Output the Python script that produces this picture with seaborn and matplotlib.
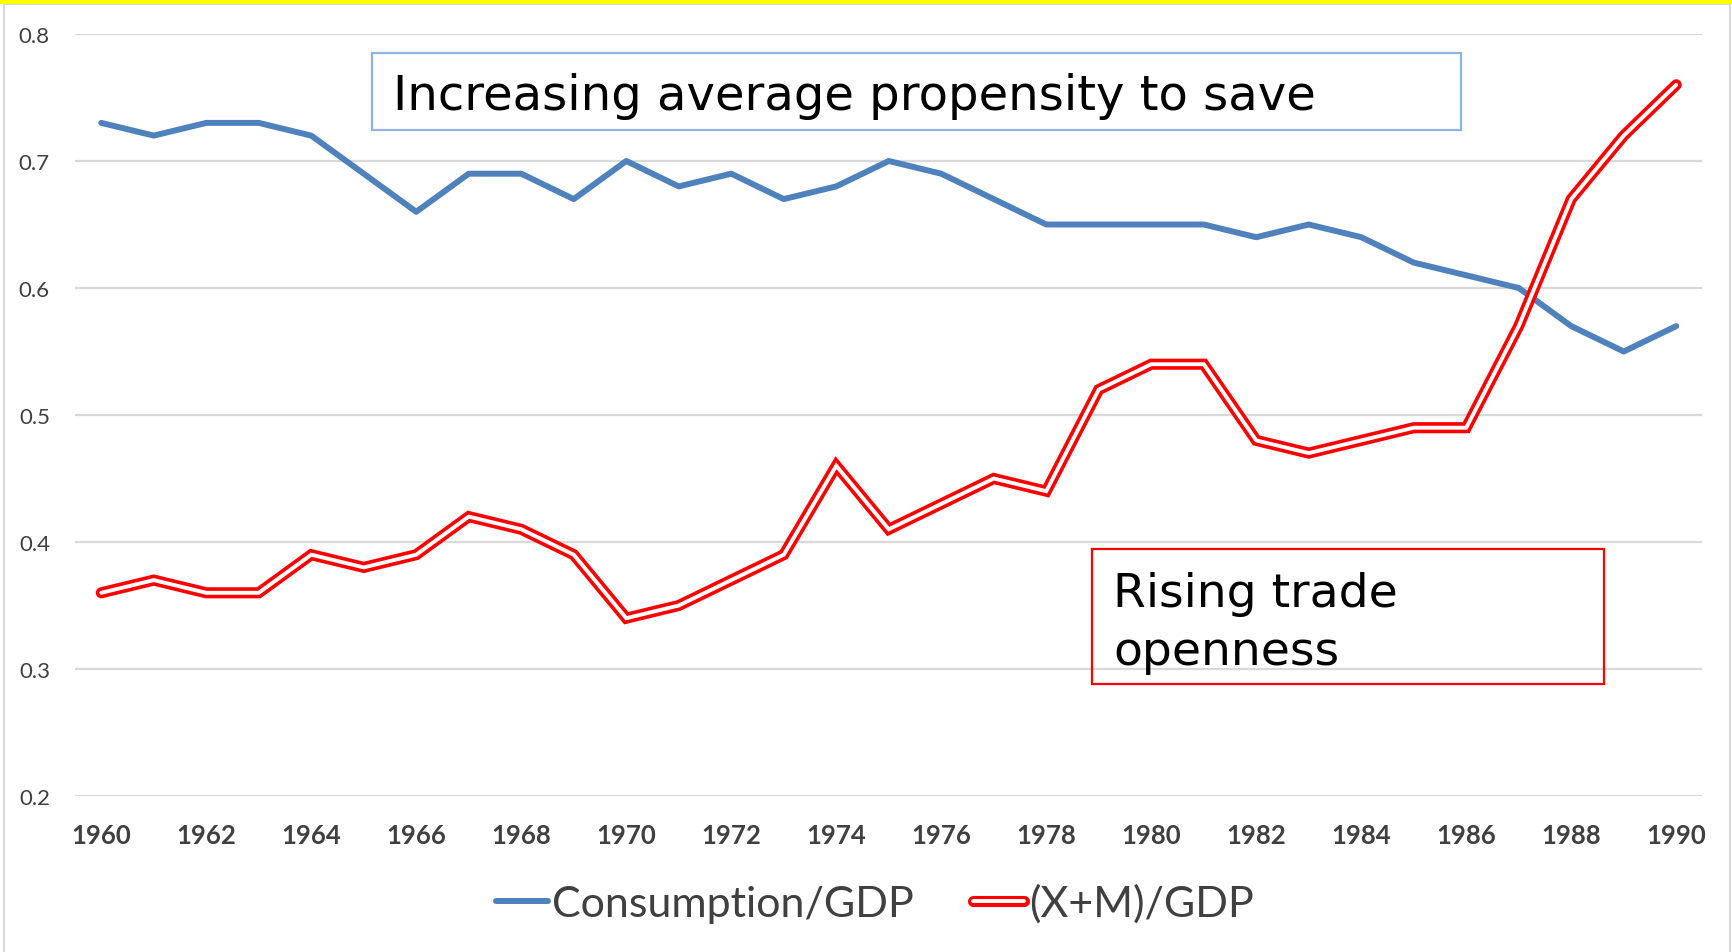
import matplotlib
matplotlib.use("Agg")
import numpy as np
import pandas as pd
import matplotlib.pyplot as plt
import seaborn as sns
from matplotlib.lines import Line2D
from matplotlib.patches import Rectangle
from matplotlib.legend_handler import HandlerTuple

# ---------------- data ----------------
years = list(range(1960, 1991))
consumption_gdp = [0.73, 0.72, 0.73, 0.73, 0.72, 0.69, 0.66, 0.69, 0.69, 0.67,
                   0.70, 0.68, 0.69, 0.67, 0.68, 0.70, 0.69, 0.67, 0.65, 0.65,
                   0.65, 0.65, 0.64, 0.65, 0.64, 0.62, 0.61, 0.60, 0.57, 0.55,
                   0.57]
trade_gdp = [0.36, 0.37, 0.36, 0.36, 0.39, 0.38, 0.39, 0.42, 0.41, 0.39,
             0.34, 0.35, 0.37, 0.39, 0.46, 0.41, 0.43, 0.45, 0.44, 0.52,
             0.54, 0.54, 0.48, 0.47, 0.48, 0.49, 0.49, 0.57, 0.67, 0.72,
             0.76]
series_names = ["Consumption/GDP", "(X+M)/GDP"]
y_ticks = [0.2, 0.3, 0.4, 0.5, 0.6, 0.7, 0.8]
x_ticks = list(range(1960, 1991, 2))
note_save = "Increasing average propensity to save"
note_trade = "Rising trade\nopenness"

# ---------------- style ----------------
sns.set_theme(style="white")
plt.rcParams["font.family"] = ["Lato", "DejaVu Sans"]

BLUE = "#4F81BD"
RED = "#FF0000"
GRID = "#D9D9D9"
TXT = "#404040"
RED_LW, WHITE_LW, BLUE_LW = 8.0, 2.8, 4.3

W, H = 1733, 953
fig = plt.figure(figsize=(W / 100, H / 100), dpi=100)
fig.patch.set_facecolor("white")


def fx(px):
    return px / W


def fy(py):
    return 1 - py / H


# outer frame and yellow band
fig.patches.append(Rectangle((fx(4), fy(960)), fx(1730) - fx(4), fy(5) - fy(960),
                             transform=fig.transFigure, fill=False,
                             edgecolor=GRID, lw=1.5, zorder=0))
fig.patches.append(Rectangle((0, fy(5)), 1, fy(0) - fy(5), transform=fig.transFigure,
                             facecolor="#FFFF00", edgecolor="none", zorder=1))

ax = fig.add_axes([fx(75), fy(797), fx(1702.5) - fx(75), fy(35) - fy(797)])
ax.set_facecolor("none")

df = pd.DataFrame({"Year": years,
                   series_names[0]: consumption_gdp,
                   series_names[1]: trade_gdp})

sns.lineplot(data=df, x="Year", y=series_names[0], ax=ax, color=BLUE, lw=BLUE_LW,
             solid_capstyle="round", solid_joinstyle="round", legend=False, zorder=3)
sns.lineplot(data=df, x="Year", y=series_names[1], ax=ax, color=RED, lw=RED_LW,
             solid_capstyle="round", solid_joinstyle="miter", legend=False, zorder=4)
sns.lineplot(data=df, x="Year", y=series_names[1], ax=ax, color="white", lw=WHITE_LW,
             solid_capstyle="round", solid_joinstyle="miter", legend=False, zorder=5)

ax.set_xlim(years[0] - 0.5, years[-1] + 0.5)
ax.set_ylim(0.2, 0.8)
ax.set_yticks(y_ticks)
ax.set_yticklabels([f"{v:.1f}" for v in y_ticks])
ax.set_xticks(x_ticks)
ax.set_xticklabels([str(v) for v in x_ticks])
ax.set_xlabel("")
ax.set_ylabel("")
for s in ax.spines.values():
    s.set_visible(False)
ax.grid(axis="y", color=GRID, lw=1.6)
ax.grid(axis="x", visible=False)
ax.tick_params(axis="both", length=0, colors=TXT)
ax.tick_params(axis="y", pad=18, labelsize=16)
ax.tick_params(axis="x", pad=19.5, labelsize=18.5)
for t in ax.get_xticklabels():
    t.set_fontweight("bold")

# annotation boxes
fig.patches.append(Rectangle((fx(372), fy(131)), fx(1461) - fx(372), fy(54) - fy(131),
                             transform=fig.transFigure, fill=False,
                             edgecolor="#8DB4E2", lw=1.6, zorder=6))
fig.text(fx(393), fy(110), note_save, family=["DejaVu Sans"], fontsize=34.7,
         color="black", ha="left", va="baseline")
fig.patches.append(Rectangle((fx(1092), fy(685)), fx(1604) - fx(1092), fy(550) - fy(685),
                             transform=fig.transFigure, fill=False,
                             edgecolor=RED, lw=1.6, zorder=6))
fig.text(fx(1113), fy(607), note_trade.split("\n")[0], family=["DejaVu Sans"],
         fontsize=34, color="black", ha="left", va="baseline")
fig.text(fx(1113), fy(665), note_trade.split("\n")[1], family=["DejaVu Sans"],
         fontsize=34, color="black", ha="left", va="baseline")

# legend
h1 = Line2D([], [], color=BLUE, lw=BLUE_LW)
h2 = (Line2D([], [], color=RED, lw=RED_LW, solid_capstyle="round"),
      Line2D([], [], color="white", lw=WHITE_LW, solid_capstyle="round"))
leg = fig.legend([h1, h2], series_names,
                 handler_map={tuple: HandlerTuple(ndivide=1, pad=0)},
                 loc="center", bbox_to_anchor=(fx(875), fy(904)), ncol=2,
                 frameon=False, fontsize=31, handlelength=1.2, handletextpad=0.1,
                 columnspacing=1.36, labelcolor=TXT)
# small extra gap between the red handle and its label
leg.get_texts()[1].set_x(0)

fig.savefig("out.png", dpi=100, facecolor="white")
